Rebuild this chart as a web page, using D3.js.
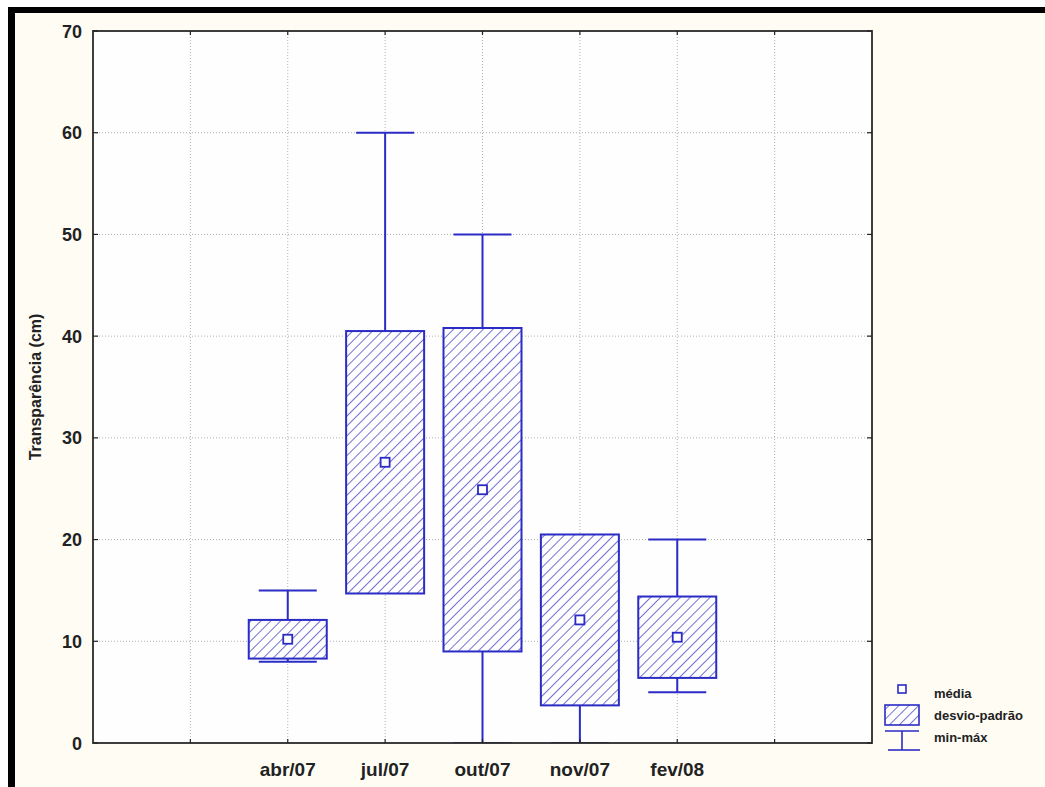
<!DOCTYPE html>
<html>
<head>
<meta charset="utf-8">
<script src="https://cdn.jsdelivr.net/npm/d3@7"></script>
<style>
  html, body { margin: 0; padding: 0; background: #ffffff; }
  svg { display: block; }
  text { font-family: "Liberation Sans", Arial, sans-serif; font-weight: bold; fill: #222; }
</style>
</head>
<body>
<svg id="chart" width="1045" height="787"></svg>
<script>
// Sampling campaigns
const categories = ["abr/07", "jul/07", "out/07", "nov/07", "fev/08"];
// Mean water transparency (cm)
const means = [10.2, 27.6, 24.9, 12.1, 10.4];
// Standard deviation (cm)
const stdDevs = [1.9, 12.9, 15.9, 8.4, 4.0];
// Observed minimum and maximum (cm)
const mins = [8, 15, 0, 0, 5];
const maxs = [15, 60, 50, 20, 20];
// Y axis ticks
const yTicks = [0, 10, 20, 30, 40, 50, 60, 70];
const yLabel = "Transparência (cm)";
const legendLabels = ["média", "desvio-padrão", "min-máx"];

const data = categories.map((c, i) => ({
  cat: c, mean: means[i], sd: stdDevs[i], min: mins[i], max: maxs[i]
}));

const svg = d3.select("#chart");
const W = 1045, H = 787;
const plot = { left: 93, right: 872, top: 31, bottom: 743 };
const blue = "#2b2bc6";

// page background and frame bars
svg.append("rect").attr("x", 0).attr("y", 0).attr("width", W).attr("height", H).attr("fill", "#ffffff");
svg.append("rect").attr("x", 14).attr("y", 13).attr("width", W - 14).attr("height", H - 13).attr("fill", "#fffcf4");
svg.append("rect").attr("x", 8).attr("y", 7).attr("width", W - 8).attr("height", 6).attr("fill", "#000");
svg.append("rect").attr("x", 8).attr("y", 7).attr("width", 7).attr("height", H - 7).attr("fill", "#000");

// plot area
svg.append("rect")
  .attr("x", plot.left).attr("y", plot.top)
  .attr("width", plot.right - plot.left).attr("height", plot.bottom - plot.top)
  .attr("fill", "#fefefe");

const x = d3.scalePoint().domain(categories).range([plot.left, plot.right]).padding(2);
const y = d3.scaleLinear().domain([0, 70]).range([plot.bottom, plot.top]);
const step = x.step();

// vertical grid positions: every category plus one empty slot on each side
const xGrid = [x(categories[0]) - step, ...categories.map(c => x(c)), x(categories[categories.length - 1]) + step];

const grid = svg.append("g");
grid.selectAll("line.v").data(xGrid).join("line")
  .attr("x1", d => d).attr("x2", d => d)
  .attr("y1", plot.top).attr("y2", plot.bottom)
  .attr("stroke", "#b0b0b0").attr("stroke-width", 1).attr("stroke-dasharray", "1,2");
grid.selectAll("line.h").data(yTicks.slice(1, -1)).join("line")
  .attr("x1", plot.left).attr("x2", plot.right)
  .attr("y1", d => y(d)).attr("y2", d => y(d))
  .attr("stroke", "#b0b0b0").attr("stroke-width", 1).attr("stroke-dasharray", "1,2");

const defs = svg.append("defs");
// hatch pattern for the ±SD boxes
const pat = defs.append("pattern")
  .attr("id", "hatch").attr("patternUnits", "userSpaceOnUse")
  .attr("width", 7).attr("height", 7)
  .attr("patternTransform", "rotate(45)");
pat.append("rect").attr("width", 7).attr("height", 7).attr("fill", "#fefefe");
pat.append("line").attr("x1", 0).attr("y1", 0).attr("x2", 0).attr("y2", 7)
  .attr("stroke", "#2626b8").attr("stroke-width", 1.3);
// keep the marks inside the plot frame
defs.append("clipPath").attr("id", "plotClip").append("rect")
  .attr("x", plot.left).attr("y", plot.top)
  .attr("width", plot.right - plot.left).attr("height", plot.bottom - plot.top);

const boxW = 78, capW = 58, meanS = 9;

const g = svg.append("g").attr("clip-path", "url(#plotClip)");
data.forEach(d => {
  const cx = x(d.cat);
  const lo = d.mean - d.sd, hi = d.mean + d.sd;
  // whiskers
  g.append("line").attr("x1", cx).attr("x2", cx).attr("y1", y(hi)).attr("y2", y(d.max))
    .attr("stroke", blue).attr("stroke-width", 2);
  g.append("line").attr("x1", cx).attr("x2", cx).attr("y1", y(lo)).attr("y2", y(d.min))
    .attr("stroke", blue).attr("stroke-width", 2);
  [d.min, d.max].forEach(v => {
    g.append("line").attr("x1", cx - capW / 2).attr("x2", cx + capW / 2)
      .attr("y1", y(v)).attr("y2", y(v))
      .attr("stroke", blue).attr("stroke-width", 2);
  });
  // ±SD box
  g.append("rect")
    .attr("x", cx - boxW / 2).attr("y", y(hi))
    .attr("width", boxW).attr("height", y(lo) - y(hi))
    .attr("fill", "url(#hatch)").attr("stroke", blue).attr("stroke-width", 2);
  // mean marker
  g.append("rect")
    .attr("x", cx - meanS / 2).attr("y", y(d.mean) - meanS / 2)
    .attr("width", meanS).attr("height", meanS)
    .attr("fill", "#fefefe").attr("stroke", blue).attr("stroke-width", 1.8);
});

// plot frame
svg.append("rect")
  .attr("x", plot.left).attr("y", plot.top)
  .attr("width", plot.right - plot.left).attr("height", plot.bottom - plot.top)
  .attr("fill", "none").attr("stroke", "#2a2a2a").attr("stroke-width", 1.8);

// inward tick marks on all four sides
const ticks = svg.append("g").attr("stroke", "#222").attr("stroke-width", 1.2);
yTicks.forEach(v => {
  ticks.append("line").attr("x1", plot.left).attr("x2", plot.left + 5).attr("y1", y(v)).attr("y2", y(v));
  ticks.append("line").attr("x1", plot.right - 5).attr("x2", plot.right).attr("y1", y(v)).attr("y2", y(v));
});
xGrid.forEach(v => {
  ticks.append("line").attr("x1", v).attr("x2", v).attr("y1", plot.bottom).attr("y2", plot.bottom - 4);
  ticks.append("line").attr("x1", v).attr("x2", v).attr("y1", plot.top).attr("y2", plot.top + 4);
});

// y tick labels
svg.append("g").selectAll("text").data(yTicks).join("text")
  .attr("x", 82).attr("y", d => y(d) + 6.5)
  .attr("text-anchor", "end").attr("font-size", 18)
  .text(d => d);

// x tick labels
svg.append("g").selectAll("text").data(categories).join("text")
  .attr("x", d => x(d)).attr("y", 776)
  .attr("text-anchor", "middle").attr("font-size", 19)
  .text(d => d);

// y axis title
svg.append("text")
  .attr("transform", `translate(41, ${(plot.top + plot.bottom) / 2}) rotate(-90)`)
  .attr("text-anchor", "middle").attr("font-size", 16)
  .text(yLabel);

// legend
const lg = svg.append("g");
const lx = 902;
lg.append("rect").attr("x", lx - 4).attr("y", 685).attr("width", 8).attr("height", 8)
  .attr("fill", "#fefefe").attr("stroke", blue).attr("stroke-width", 1.6);
lg.append("rect").attr("x", 885).attr("y", 705).attr("width", 34).attr("height", 20)
  .attr("fill", "url(#hatch)").attr("stroke", blue).attr("stroke-width", 1.6);
lg.append("line").attr("x1", 885).attr("x2", 919).attr("y1", 731).attr("y2", 731)
  .attr("stroke", blue).attr("stroke-width", 1.6);
lg.append("line").attr("x1", lx).attr("x2", lx).attr("y1", 731).attr("y2", 750)
  .attr("stroke", blue).attr("stroke-width", 1.6);
lg.append("line").attr("x1", 888).attr("x2", 920).attr("y1", 750).attr("y2", 750)
  .attr("stroke", blue).attr("stroke-width", 1.6);
lg.selectAll("text").data(legendLabels).join("text")
  .attr("x", 934).attr("y", (d, i) => 698 + i * 22)
  .attr("font-size", 13)
  .text(d => d);
</script>
</body>
</html>
